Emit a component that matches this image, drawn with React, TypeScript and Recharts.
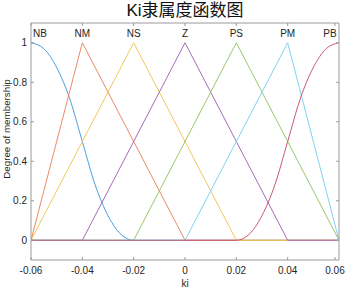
import React from 'react';
import { ComposedChart, Line, XAxis, YAxis, ReferenceDot } from 'recharts';

// Membership function names and colours
const mfNames = ['NB', 'NM', 'NS', 'Z', 'PS', 'PM', 'PB'];
const mfColors = ['#4a9fe0', '#ec8a62', '#f3c75a', '#a56cb6', '#9cc76b', '#80d2f2', '#c95a6e'];

// NB: z-shaped curve
const nbX = [-0.06, -0.055, -0.05, -0.045, -0.04, -0.035, -0.03, -0.025, -0.02, 0.06];
const nbY = [1, 0.97, 0.875, 0.72, 0.5, 0.28, 0.125, 0.03, 0, 0];
// Triangles (vertices)
const nmX = [-0.06, -0.04, 0, 0.06];
const nmY = [0, 1, 0, 0];
const nsX = [-0.06, -0.02, 0.02, 0.06];
const nsY = [0, 1, 0, 0];
const zX = [-0.06, -0.04, 0, 0.04, 0.06];
const zY = [0, 0, 1, 0, 0];
const psX = [-0.06, -0.02, 0.02, 0.06];
const psY = [0, 0, 1, 0];
const pmX = [-0.06, 0, 0.04, 0.06];
const pmY = [0, 0, 1, 0];
// PB: s-shaped curve
const pbX = [-0.06, 0.02, 0.025, 0.03, 0.035, 0.04, 0.045, 0.05, 0.055, 0.06];
const pbY = [0, 0, 0.03, 0.125, 0.28, 0.5, 0.72, 0.875, 0.97, 1];

const labelX = [-0.0565, -0.04, -0.02, 0, 0.02, 0.04, 0.0565];
const labelY = 1.045;

const xTicks = [-0.06, -0.04, -0.02, 0, 0.02, 0.04, 0.06];
const yTicks = [0, 0.2, 0.4, 0.6, 0.8, 1];
const xTickLabels = ['-0.06', '-0.04', '-0.02', '0', '0.02', '0.04', '0.06'];
const yTickLabels = ['0', '0.2', '0.4', '0.6', '0.8', '1'];

const seriesX = [nbX, nmX, nsX, zX, psX, pmX, pbX];
const seriesY = [nbY, nmY, nsY, zY, psY, pmY, pbY];
const series = seriesX.map((xs, i) => xs.map((x, j) => ({ x, y: seriesY[i][j] })));
const curved = [true, false, false, false, false, false, true];

const FONT = '"Liberation Sans", Arial, Helvetica, sans-serif';
const TXT = '#262626';
const AXC = '#9a9a9a';
const TICKLEN = 3;

const BottomTick = (props: any) => {
  const { x, y, payload } = props;
  const i = xTicks.indexOf(payload.value);
  return (
    <g>
      <line x1={x} y1={y} x2={x} y2={y - TICKLEN} stroke={AXC} />
      <text x={x} y={y + 14} textAnchor="middle" fontSize={10} fontFamily={FONT} fill={TXT}>
        {i >= 0 ? xTickLabels[i] : payload.value}
      </text>
    </g>
  );
};
const TopTick = (props: any) => {
  const { x, y } = props;
  return <line x1={x} y1={y} x2={x} y2={y + TICKLEN} stroke={AXC} />;
};
const LeftTick = (props: any) => {
  const { x, y, payload } = props;
  const i = yTicks.indexOf(payload.value);
  return (
    <g>
      <line x1={x} y1={y} x2={x + TICKLEN} y2={y} stroke={AXC} />
      <text x={x - 4} y={y + 3.5} textAnchor="end" fontSize={10} fontFamily={FONT} fill={TXT}>
        {i >= 0 ? yTickLabels[i] : payload.value}
      </text>
    </g>
  );
};
const RightTick = (props: any) => {
  const { x, y } = props;
  return <line x1={x} y1={y} x2={x - TICKLEN} y2={y} stroke={AXC} />;
};

export default function App() {
  return (
    <div style={{ position: 'absolute', left: 0, top: 0, width: 349, height: 288, background: '#fff' }}>
      <div
        style={{
          position: 'absolute', left: 31, width: 308, top: 0, textAlign: 'center',
          fontFamily: '"Liberation Sans", "Noto Sans CJK SC", sans-serif', fontSize: 17, lineHeight: '21px', color: '#111',
        }}
      >
        Ki隶属度函数图
      </div>
      <div style={{ position: 'absolute', left: 6, top: 129, width: 0, height: 0 }}>
        <div
          style={{
            position: 'absolute', left: 0, top: 0, transform: 'translate(-50%, -50%) rotate(-90deg)',
            whiteSpace: 'nowrap', fontFamily: FONT, fontSize: 9.8, lineHeight: '11px', color: TXT,
          }}
        >
          Degree of membership
        </div>
      </div>
      <ComposedChart
        width={349}
        height={288}
        margin={{ top: 0, right: 0, bottom: 0, left: 0 }}
      >
        <XAxis
          xAxisId="b" dataKey="x" type="number" domain={[-0.06, 0.06]} ticks={xTicks}
          orientation="bottom" height={28} tickSize={0} tickMargin={0} tickLine={false}
          axisLine={{ stroke: AXC }} tick={<BottomTick />} allowDataOverflow
          label={{ value: 'ki', position: 'insideBottom', offset: 1, fontSize: 10, fill: TXT, fontFamily: FONT }}
        />
        <XAxis
          xAxisId="t" dataKey="x" type="number" domain={[-0.06, 0.06]} ticks={xTicks}
          orientation="top" height={23} tickSize={0} tickMargin={0} tickLine={false}
          axisLine={{ stroke: AXC }} tick={<TopTick />} allowDataOverflow
        />
        <YAxis
          yAxisId="l" type="number" domain={[-0.1, 1.1]} ticks={yTicks} orientation="left" width={31}
          tickSize={0} tickMargin={0} tickLine={false} axisLine={{ stroke: AXC }} tick={<LeftTick />} allowDataOverflow
        />
        <YAxis
          yAxisId="r" type="number" domain={[-0.1, 1.1]} ticks={yTicks} orientation="right" width={10}
          tickSize={0} tickMargin={0} tickLine={false} axisLine={{ stroke: AXC }} tick={<RightTick />} allowDataOverflow
        />
        {series.map((d, i) => (
          <Line
            key={mfNames[i]}
            xAxisId="b"
            yAxisId="l"
            data={d}
            dataKey="y"
            type={curved[i] ? 'monotone' : 'linear'}
            stroke={mfColors[i]}
            strokeWidth={1}
            dot={false}
            activeDot={false}
            isAnimationActive={false}
          />
        ))}
        {mfNames.map((n, i) => (
          <ReferenceDot
            key={'lab' + n}
            xAxisId="b"
            yAxisId="l"
            x={labelX[i]}
            y={labelY}
            r={0}
            fill="none"
            stroke="none"
            ifOverflow="visible"
            label={{ value: n, position: 'center', fontSize: 10, fill: TXT, fontFamily: FONT }}
          />
        ))}
      </ComposedChart>
    </div>
  );
}
